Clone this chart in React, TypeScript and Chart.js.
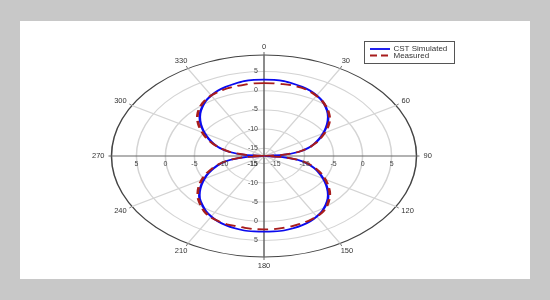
import React, { useEffect, useRef } from "react";
import { Chart, registerables } from "chart.js";

Chart.register(...registerables);

// Angles (degrees, clockwise from top)
const angles: number[] = [
  0, 5, 10, 15, 20, 25, 30, 35, 40, 45, 50, 55, 60, 65, 70, 75, 80, 85,
  90, 95, 100, 105, 110, 115, 120, 125, 130, 135, 140, 145, 150, 155, 160, 165, 170, 175,
  180, 185, 190, 195, 200, 205, 210, 215, 220, 225, 230, 235, 240, 245, 250, 255, 260, 265,
  270, 275, 280, 285, 290, 295, 300, 305, 310, 315, 320, 325, 330, 335, 340, 345, 350, 355,
];

// CST simulated gain (dB)
const simulated: number[] = [
  2.9, 2.9, 2.8, 2.5, 2.2, 1.8, 1.2, 0.5, -0.4, -1.4, -2.6, -3.9, -5.2, -6.5, -7.8, -9.2, -11.0, -13.8,
  -17, -13.8, -11.0, -9.2, -7.8, -6.5, -5.2, -3.9, -2.6, -1.4, -0.4, 0.5, 1.2, 1.8, 2.2, 2.5, 2.7, 2.7,
  2.7, 2.7, 2.7, 2.5, 2.2, 1.8, 1.2, 0.5, -0.4, -1.3, -2.5, -3.8, -5.1, -6.4, -7.8, -9.2, -11.0, -13.8,
  -17, -13.8, -11.0, -9.2, -7.8, -6.5, -5.2, -3.9, -2.6, -1.4, -0.4, 0.5, 1.2, 1.8, 2.2, 2.5, 2.8, 2.9,
];

// Measured gain (dB)
const measured: number[] = [
  2.0, 2.0, 2.0, 2.0, 1.9, 1.6, 1.1, 0.5, -0.3, -1.2, -2.2, -3.5, -4.9, -6.3, -7.7, -9.1, -11.0, -13.9,
  -17, -13.7, -10.9, -9.0, -7.5, -6.1, -4.8, -3.5, -2.2, -1.1, -0.1, 0.7, 1.2, 1.5, 1.7, 1.9, 2.0, 2.1,
  2.1, 2.1, 2.0, 1.9, 1.9, 1.7, 1.4, 0.8, -0.1, -1.0, -2.1, -3.3, -4.6, -6.0, -7.5, -9.0, -10.9, -13.7,
  -17, -13.9, -11.1, -9.2, -7.6, -6.1, -4.7, -3.3, -2.0, -0.9, 0.0, 0.7, 1.2, 1.5, 1.7, 1.8, 1.9, 2.0,
];

const ringTicks: number[] = [-15, -10, -5, 0, 5];
const angleTickLabels: number[] = [0, 30, 60, 90, 120, 150, 180, 210, 240, 270, 300, 330];
const R_MIN = -17;
const R_MAX = 9.3;
const ANGLE_STEP = 5;
const STRETCH = 1.51;

const FONT = "'Liberation Sans', Arial, sans-serif";
const BLUE = "#0a0aee";
const RED = "#a81c1c";

function stretchX(s: any, x: number) {
  return s.xCenter + (x - s.xCenter) * STRETCH;
}

function pagePoint(s: any, angleDeg: number, dist: number) {
  const p = s.getPointPosition(angleDeg / ANGLE_STEP, dist);
  return { x: stretchX(s, p.x), y: p.y };
}

const ellipsePlugin = {
  id: "ellipse",
  beforeDraw(chart: any) {
    const s = chart.scales.r;
    const ctx = chart.ctx;
    ctx.save();
    ctx.translate(s.xCenter, 0);
    ctx.scale(STRETCH, 1);
    ctx.translate(-s.xCenter, 0);
  },
  afterDraw(chart: any) {
    const s = chart.scales.r;
    const ctx = chart.ctx;
    ctx.restore();
    const R = s.drawingArea;
    const xc = s.xCenter;
    const yc = s.yCenter;

    ctx.save();
    // axis extensions and ticks at outer ring
    angleTickLabels.forEach((a) => {
      const rad = (a * Math.PI) / 180;
      const ux = Math.sin(rad);
      const uy = -Math.cos(rad);
      const p = pagePoint(s, a, R);
      const ext = a % 90 === 0 ? 3 : 3;
      ctx.beginPath();
      ctx.strokeStyle = a % 90 === 0 ? "#666" : "#777";
      ctx.lineWidth = 1;
      ctx.moveTo(p.x, p.y);
      ctx.lineTo(p.x + ux * ext, p.y + uy * ext);
      ctx.stroke();
    });

    // angle labels
    ctx.fillStyle = "#333";
    ctx.font = `7.5px ${FONT}`;
    ctx.textAlign = "center";
    ctx.textBaseline = "middle";
    angleTickLabels.forEach((a) => {
      const rad = (a * Math.PI) / 180;
      const ux = Math.sin(rad);
      const uy = -Math.cos(rad);
      const p = pagePoint(s, a, R);
      const txt = String(a);
      const w = ctx.measureText(txt).width;
      const x = p.x + ux * (7 + w / 2);
      const y = p.y + uy * (5 + 3.5);
      ctx.fillText(txt, x, y);
    });

    // radial tick labels
    ctx.fillStyle = "#444";
    ctx.font = `7px ${FONT}`;
    ringTicks.forEach((v) => {
      const d = s.getDistanceFromCenterForValue(v);
      const txt = String(v);
      // vertical axis (top and bottom)
      ctx.textAlign = "right";
      ctx.textBaseline = "middle";
      const top = pagePoint(s, 0, d);
      ctx.fillText(txt, xc - 6, top.y - 0.5);
      const bot = pagePoint(s, 180, d);
      ctx.fillText(txt, xc - 6, bot.y);
      // horizontal axis (left and right)
      ctx.textAlign = "center";
      const left = pagePoint(s, 270, d);
      ctx.fillText(txt, left.x, yc + 8);
      const right = pagePoint(s, 90, d);
      ctx.fillText(txt, right.x, yc + 8);
    });

    // legend
    const bx = 364.5, by = 41.5, bw = 90, bh = 22;
    ctx.fillStyle = "#fff";
    ctx.fillRect(bx, by, bw, bh);
    ctx.strokeStyle = "#555";
    ctx.lineWidth = 1;
    ctx.strokeRect(bx, by, bw, bh);
    ctx.beginPath();
    ctx.strokeStyle = BLUE;
    ctx.lineWidth = 1.8;
    ctx.moveTo(370, 49);
    ctx.lineTo(390, 49);
    ctx.stroke();
    ctx.beginPath();
    ctx.strokeStyle = RED;
    ctx.setLineDash([7, 4]);
    ctx.moveTo(370, 55.5);
    ctx.lineTo(391, 55.5);
    ctx.stroke();
    ctx.setLineDash([]);
    ctx.fillStyle = "#333";
    ctx.font = `8px ${FONT}`;
    ctx.textAlign = "left";
    ctx.textBaseline = "middle";
    ctx.fillText("CST Simulated", 393.5, 49);
    ctx.fillText("Measured", 393.5, 55.5);
    ctx.restore();
  },
};

export default function App() {
  const ref = useRef<HTMLCanvasElement>(null);
  useEffect(() => {
    const chart = new Chart(ref.current as HTMLCanvasElement, {
      type: "radar",
      data: {
        labels: angles.map(String),
        datasets: [
          {
            label: "CST Simulated",
            data: simulated,
            borderColor: BLUE,
            borderWidth: 1.7,
            fill: false,
            order: 2,
          },
          {
            label: "Measured",
            data: measured,
            borderColor: RED,
            borderWidth: 1.8,
            borderDash: [7, 4],
            fill: false,
            order: 1,
          },
        ],
      },
      options: {
        animation: false,
        responsive: false,
        devicePixelRatio: 1,
        layout: { padding: { left: 99, right: 121, top: 55, bottom: 42 } },
        plugins: { legend: { display: false }, tooltip: { enabled: false } },
        elements: { point: { radius: 0 }, line: { tension: 0.3 } },
        scales: {
          r: {
            min: R_MIN,
            max: R_MAX,
            startAngle: 0,
            afterBuildTicks: (scale: any) => {
              scale.ticks = [R_MIN, ...ringTicks, R_MAX].map((v) => ({ value: v }));
            },
            ticks: { display: false },
            pointLabels: { display: false },
            grid: {
              circular: true,
              lineWidth: 1,
              color: (c: any) =>
                c.tick && c.tick.value === R_MAX
                  ? "#444"
                  : c.tick && c.tick.value === R_MIN
                  ? "rgba(0,0,0,0)"
                  : "#d4d4d4",
            },
            angleLines: {
              display: true,
              color: (c: any) => ((c.index * ANGLE_STEP) % 90 === 0 ? "#666" : "#d4d4d4"),
              lineWidth: (c: any) => ((c.index * ANGLE_STEP) % 30 === 0 ? 1 : 0),
            },
          },
        },
      },
      plugins: [ellipsePlugin],
    } as any);
    return () => chart.destroy();
  }, []);

  return (
    <div
      style={{
        position: "fixed",
        left: 0,
        top: 0,
        width: 550,
        height: 300,
        background: "#c8c8c8",
        overflow: "hidden",
      }}
    >
      <div
        style={{
          position: "absolute",
          left: 20,
          top: 21,
          width: 510,
          height: 258,
          background: "#fff",
        }}
      />
      <canvas
        ref={ref}
        width={550}
        height={300}
        style={{ position: "absolute", left: 0, top: 0, width: 550, height: 300 }}
      />
    </div>
  );
}
